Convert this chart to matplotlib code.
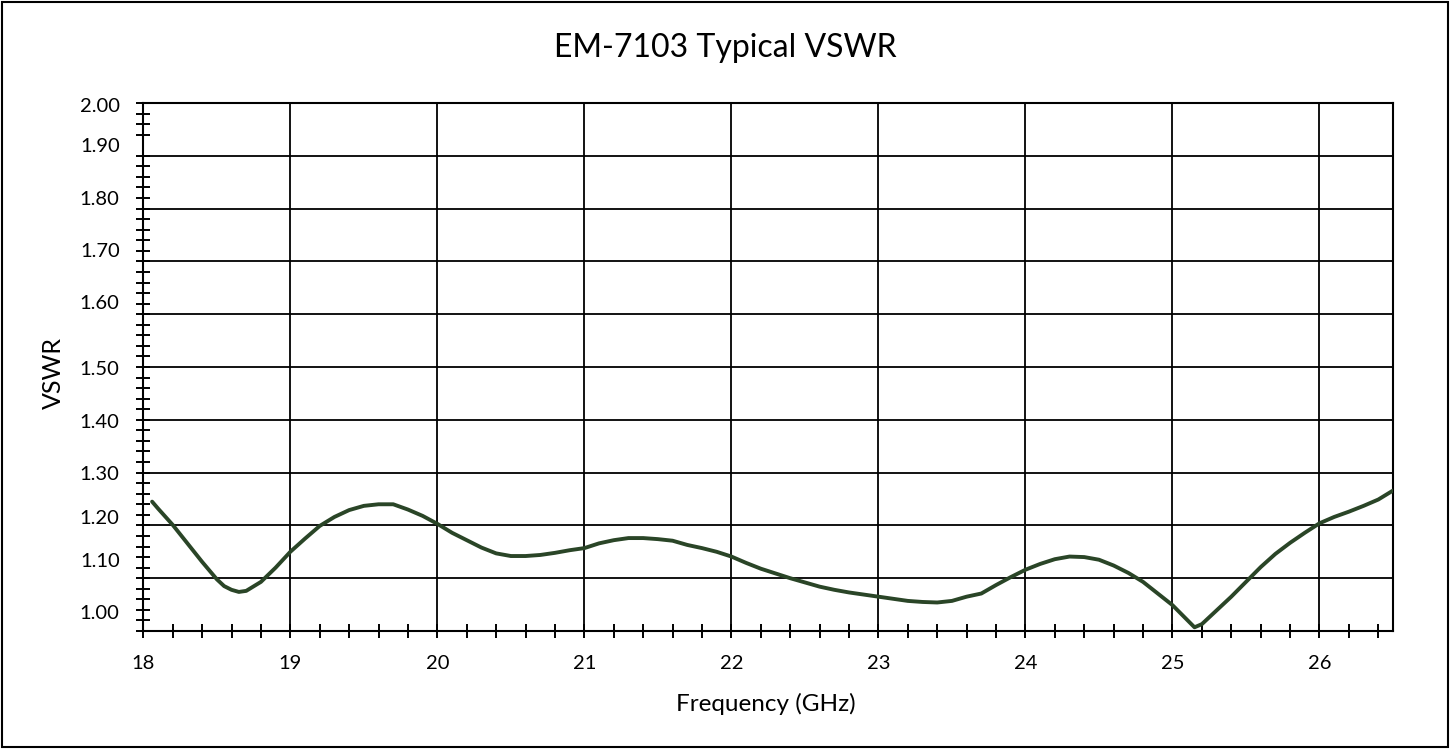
import matplotlib
matplotlib.use("Agg")
import matplotlib.pyplot as plt
from matplotlib.patches import Rectangle
import numpy as np

plt.rcParams['font.family'] = ['Lato', 'DejaVu Sans']

# Data
freq_ghz = [18.06, 18.1, 18.2, 18.3, 18.4, 18.5, 18.55, 18.6, 18.65, 18.7, 18.8, 18.9,
            19.0, 19.1, 19.2, 19.3, 19.4, 19.5, 19.6, 19.7, 19.8, 19.9,
            20.0, 20.1, 20.2, 20.3, 20.4, 20.5, 20.6, 20.7, 20.8, 20.9,
            21.0, 21.1, 21.2, 21.3, 21.4, 21.5, 21.6, 21.7, 21.8, 21.9,
            22.0, 22.1, 22.2, 22.3, 22.4, 22.5, 22.6, 22.7, 22.8, 22.9,
            23.0, 23.1, 23.2, 23.3, 23.4, 23.5, 23.6, 23.7, 23.8, 23.9,
            24.0, 24.1, 24.2, 24.3, 24.4, 24.5, 24.6, 24.7, 24.8, 24.9,
            25.0, 25.1, 25.15, 25.2, 25.3, 25.4, 25.5, 25.6, 25.7, 25.8, 25.9,
            26.0, 26.1, 26.2, 26.3, 26.4, 26.5]
vswr = [1.245, 1.232, 1.201, 1.166, 1.131, 1.098, 1.085, 1.078, 1.074, 1.076, 1.093, 1.120,
        1.150, 1.175, 1.199, 1.216, 1.229, 1.237, 1.240, 1.240, 1.230, 1.218,
        1.203, 1.186, 1.172, 1.158, 1.147, 1.142, 1.142, 1.144, 1.148, 1.153,
        1.157, 1.166, 1.172, 1.176, 1.176, 1.174, 1.171, 1.163, 1.157, 1.150,
        1.141, 1.129, 1.118, 1.109, 1.100, 1.092, 1.084, 1.078, 1.073, 1.069,
        1.065, 1.061, 1.057, 1.055, 1.054, 1.057, 1.065, 1.071, 1.087, 1.102,
        1.116, 1.127, 1.136, 1.141, 1.140, 1.135, 1.124, 1.110, 1.093, 1.071,
        1.049, 1.021, 1.007, 1.013, 1.039, 1.065, 1.093, 1.121, 1.146, 1.167, 1.186,
        1.204, 1.216, 1.226, 1.237, 1.249, 1.266]

x_tick_labels = ['18', '19', '20', '21', '22', '23', '24', '25', '26']
y_tick_labels = ['2.00', '1.90', '1.80', '1.70', '1.60', '1.50', '1.40', '1.30', '1.20', '1.10', '1.00']
# positions where the (manually placed) y labels sit in the reference
y_label_pos = [1.996, 1.920, 1.8195, 1.7216, 1.6237, 1.4975, 1.3977, 1.2987, 1.2165, 1.1345, 1.0354]

title = 'EM-7103 Typical VSWR'
x_title = 'Frequency (GHz)'
y_title = 'VSWR'

fig = plt.figure(figsize=(14.5, 7.49), dpi=100)
ax = fig.add_axes([143.3/1450, 1-631/749, (1393-143.3)/1450, (631-103)/749])

ax.plot(freq_ghz, vswr, color='#2a4527', lw=2.8, solid_capstyle='round',
        solid_joinstyle='round', zorder=5)

ax.set_xlim(18, 26.5)
ax.set_ylim(1.0, 2.0)

# x axis
ax.set_xticks(np.arange(18, 27, 1))
ax.set_xticklabels(x_tick_labels)
ax.set_xticks(np.arange(18, 26.5, 0.2), minor=True)
ax.tick_params(axis='x', which='both', direction='inout', length=10, width=1.4,
               labelsize=14.5, pad=12, colors='black')

# y axis: labels at their positions, marks at regular steps
ax.set_yticks(y_label_pos)
ax.set_yticklabels(y_tick_labels)
ax.tick_params(axis='y', which='major', length=0, labelsize=14.5, pad=17)
ax.set_yticks(np.arange(1.0, 2.001, 0.02), minor=True)
ax.tick_params(axis='y', which='minor', direction='inout', length=10, width=1.4)

# grid lines
for gx in range(19, 27):
    ax.axvline(gx, color='black', lw=1.3, zorder=1)
for gy in np.arange(1.1, 1.95, 0.1):
    ax.axhline(gy, color='black', lw=1.3, zorder=1)

for s in ax.spines.values():
    s.set_linewidth(1.5)
    s.set_color('black')

fig.text(725/1450, 1-56.7/749, title, ha='center', va='baseline', fontsize=23)
fig.text(766/1450, 1-704/749, x_title, ha='center', va='center', fontsize=17.5)
fig.text(53/1450, 1-373/749, y_title, ha='center', va='center', rotation=90, fontsize=18)

fig.patches.append(Rectangle((2/1450, 2/749), 1 - 4/1450, 1 - 4/749, transform=fig.transFigure,
                             fill=False, edgecolor='black', lw=1.5))

fig.savefig('out.png', dpi=100)
